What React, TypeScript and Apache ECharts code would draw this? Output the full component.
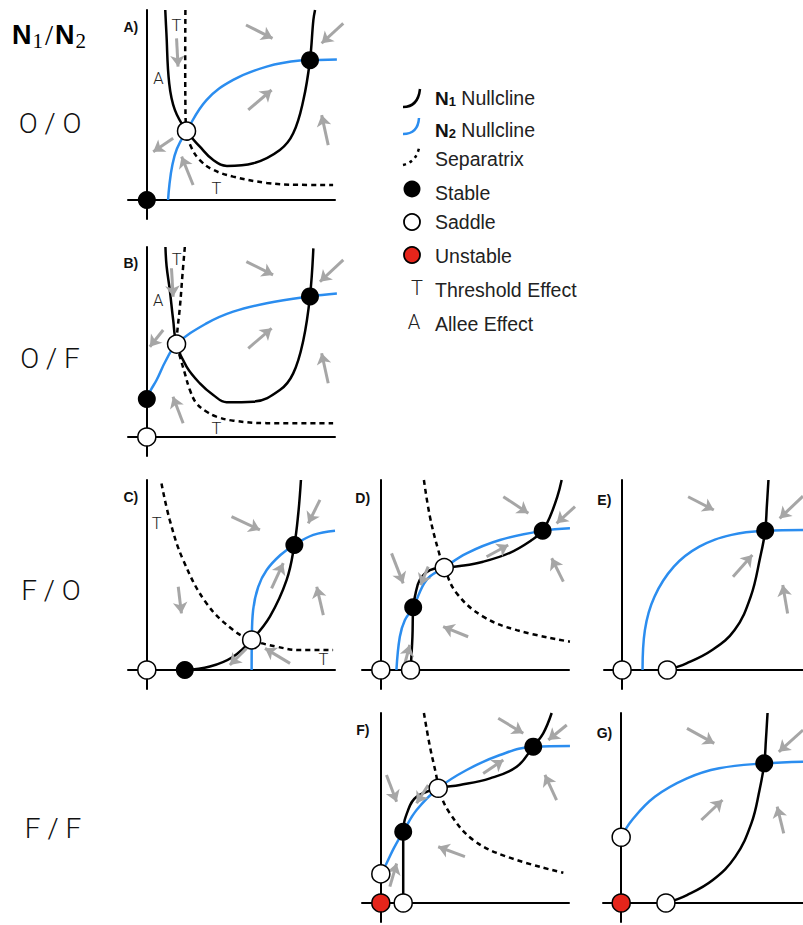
import React, { useEffect, useRef } from "react";
import * as echarts from "echarts";

type P = [number, number];
type Arrow = [P, P];
type Note = [string, number, number];

// ---------- Panel A (O / O) ----------
const aN1: P[] = [[9.8, 100], [10.4, 88], [11.9, 61.4], [14.9, 47.4], [21.1, 36.3], [28.2, 28.1], [35.3, 21], [42.6, 17.9], [56.6, 19.3], [70.7, 26.3], [77.8, 35.1], [83.2, 52.6], [86.7, 73.6], [88.5, 94.7], [89.4, 100]];
const aN2: P[] = [[11.3, 0], [12, 8], [13.5, 18], [16, 27], [21.1, 36.3], [31.7, 52.6], [45.9, 63.2], [63.7, 70.2], [81.4, 73.4], [86.7, 73.6], [101, 74]];
const aSep: P[] = [[20.5, 100], [20.4, 75], [20.5, 50], [21.1, 36.3], [23.5, 28], [28.2, 21], [35, 16], [45.9, 12.3], [63.7, 9], [80, 8], [99, 7.9]];
const aStable: P[] = [[0, 0], [86.7, 73.6]];
const aSaddle: P[] = [[21.1, 36.3]];
const aUnstable: P[] = [];
const aArrows: Arrow[] = [[[52.7, 92.1], [66.8, 85.1]], [[104.4, 93], [92.9, 82.5]], [[15.8, 85.1], [16.6, 70.2]], [[53.9, 47.4], [66.3, 57.9]], [[96.4, 28.9], [92.9, 44.7]], [[14, 32.5], [3.4, 25.4]], [[24.6, 7.9], [18.5, 22.8]]];
const aTag: Note[] = [["A)", -8.5, 91.2]];
const aNotes: Note[] = [["T", 15.7, 91.9], ["A", 6.1, 63.7], ["T", 37, 6.2]];

// ---------- Panel B (O / F) ----------
const bN1: P[] = [[9.9, 100], [10.5, 90], [12.2, 77.4], [14, 61.6], [15.8, 48.9], [21.1, 37], [28.2, 28.2], [35.3, 22.1], [42.4, 18.3], [56.6, 18.6], [70.7, 24.7], [77.8, 33.5], [83.2, 51.1], [86.7, 74], [88.5, 99.3]];
const bN2: P[] = [[0, 20], [2, 24.5], [5.2, 30], [10, 40], [15.8, 48.9], [31.7, 59.8], [45.9, 66], [63.7, 70.4], [86.7, 74], [101, 75.5]];
const bSep: P[] = [[20.2, 100], [19, 86.1], [17.6, 68.6], [16.1, 54.6], [15.8, 48.9], [17.6, 42.3], [20.2, 33.5], [22.9, 24.7], [26.4, 17.7], [31.8, 13.3], [37, 10.7], [45.9, 8.6], [63.7, 7.3], [99, 7.2]];
const bStable: P[] = [[0, 20], [86.7, 74]];
const bSaddle: P[] = [[0, 0], [15.8, 48.9]];
const bUnstable: P[] = [];
const bArrows: Arrow[] = [[[52.9, 92.3], [67.1, 85.3]], [[104.4, 93.2], [92, 81.7]], [[13.1, 88.8], [14, 73.8]], [[53.9, 46.7], [66.3, 57.2]], [[96.4, 28.3], [92.9, 44.1]], [[8.7, 56.3], [1.6, 47.5]], [[19.3, 7.2], [13.9, 21.2]]];
const bTag: Note[] = [["B)", -8.5, 91.4]];
const bNotes: Note[] = [["T", 15.8, 93.2], ["A", 6, 72.1], ["T", 37, 4.6]];

// ---------- Panel C (F / O) ----------
const cN1: P[] = [[20.2, 0], [33.5, 1.8], [45.9, 7], [55.7, 15.8], [65.4, 28.1], [74.3, 47.4], [78.4, 65.8], [80.5, 82.5], [81.9, 100]];
const cN2: P[] = [[55.7, 0], [55.8, 15.8], [56.5, 31.6], [59.2, 43.8], [63.7, 52.6], [71, 60.5], [78.4, 65.8], [88.5, 71.1], [100, 73.3]];
const cSep: P[] = [[7.8, 98.2], [12.2, 78.9], [19.3, 57.9], [31.7, 35.1], [45.9, 21], [55.7, 15.8], [68.9, 12.3], [81.4, 10.5], [99, 10.5]];
const cStable: P[] = [[20.2, 0], [78.4, 65.8]];
const cSaddle: P[] = [[0, 0], [55.7, 15.8]];
const cUnstable: P[] = [];
const cArrows: Arrow[] = [[[45, 80.7], [60.1, 73.7]], [[92, 89.5], [85.8, 77.2]], [[16.7, 43.8], [18.4, 29.8]], [[66.3, 43], [72.5, 56.2]], [[93.8, 28.9], [90.3, 43.8]], [[76.1, 3.5], [62.8, 11.4]], [[53, 11.4], [44.1, 2.6]]];
const cTag: Note[] = [["C)", -8.5, 91.2]];
const cNotes: Note[] = [["T", 5.2, 77.2], ["T", 93.8, 5.3]];

// ---------- Panel D (F / O) ----------
const dN1: P[] = [[15.8, 0], [16.8, 17.5], [17.2, 33], [18.1, 38.6], [20.7, 47.4], [26.1, 52.6], [33.7, 53.9], [42, 54.7], [54.4, 57], [68.6, 61.7], [80.2, 68.4], [86, 73.3], [89.9, 80.7], [93.8, 91.2], [96.1, 100]];
const dN2: P[] = [[8.3, 0], [10.1, 17.5], [12.8, 26.3], [17.2, 33], [24.3, 47.4], [33.7, 53.9], [45.6, 61.4], [63.3, 68.4], [86, 73.3], [100.5, 74.6]];
const dSep: P[] = [[22.9, 100], [26.1, 80.7], [30.5, 63.2], [33.7, 53.9], [40.3, 40.4], [54.4, 28.1], [72.2, 21], [100.5, 14.9]];
const dStable: P[] = [[17.2, 33], [86, 73.3]];
const dSaddle: P[] = [[0, 0], [15.8, 0], [33.7, 53.9]];
const dUnstable: P[] = [];
const dArrows: Arrow[] = [[[65.1, 91.2], [78.4, 82.5]], [[103.2, 86], [93.4, 77.2]], [[5.7, 61.4], [11.9, 45.6]], [[56.2, 59.6], [67.7, 65.8]], [[25.2, 54.4], [21.1, 44.7]], [[97, 46.5], [90.8, 58.8]], [[46.4, 17.5], [33.1, 22.8]], [[12.8, 3.5], [15.4, 13.2]]];
const dTag: Note[] = [["D)", -9.6, 90.4]];
const dNotes: Note[] = [];

// ---------- Panel E (F / O) ----------
const eN1: P[] = [[25, 0], [35.6, 3.5], [49.8, 10.5], [62.2, 21], [71.1, 38.6], [76.4, 59.6], [79.1, 73.3], [80, 86], [80.9, 100]];
const eN2: P[] = [[11.3, 0], [12.6, 21], [17.9, 38.6], [28.6, 54.4], [42.7, 64.9], [60.5, 71.1], [79.1, 73.3], [100, 73.7]];
const eSep: P[] = [];
const eStable: P[] = [[79.1, 73.3]];
const eSaddle: P[] = [[0, 0], [25, 0]];
const eUnstable: P[] = [];
const eArrows: Arrow[] = [[[36.5, 91.2], [50.7, 84.2]], [[100, 91.5], [87.1, 79.8]], [[61.3, 49.1], [72, 60.5]], [[91.5, 29.8], [88.8, 44.7]]];
const eTag: Note[] = [["E)", -9.8, 89.5]];
const eNotes: Note[] = [];

// ---------- Panel F (F / F) ----------
const fN1: P[] = [[11.9, 0], [11.9, 19.1], [11.9, 37.5], [14.5, 48.9], [19, 55.9], [30.5, 60.4], [42, 62.1], [58, 65.6], [72.2, 71.7], [81, 82.3], [86.3, 89.3], [90.8, 100]];
const fN2: P[] = [[0, 15.3], [3, 20.8], [7, 29], [11.9, 37.5], [19, 48.9], [30.5, 60.4], [45.6, 70], [63.3, 77.9], [81, 82.3], [100.5, 82.6]];
const fSep: P[] = [[22.9, 100], [26.1, 82.3], [29.6, 66.5], [30.5, 60.4], [36.7, 47.2], [49.1, 33.2], [66.9, 24.4], [97, 15.9]];
const fStable: P[] = [[11.9, 37.5], [81, 82.3]];
const fSaddle: P[] = [[0, 15.3], [11.9, 0], [30.5, 60.4]];
const fUnstable: P[] = [[0, 0]];
const fArrows: Arrow[] = [[[62.4, 97.2], [75.7, 89.3]], [[98.8, 93.7], [89, 85.8]], [[3, 67.4], [8.4, 53.3]], [[54.4, 68.2], [65.1, 75.3]], [[25.2, 62.1], [19, 52.5]], [[93.4, 54.2], [87.2, 67.4]], [[44.7, 24.4], [30.5, 29.6]], [[4.8, 8.6], [8.4, 20.8]]];
const fTag: Note[] = [["F)", -9.6, 91]];
const fNotes: Note[] = [];

// ---------- Panel G (F / F) ----------
const gN1: P[] = [[24.6, 0], [36.2, 4.2], [50.4, 12.1], [62.8, 24.4], [71.6, 41.9], [76.1, 59.5], [78.7, 73.5], [79.6, 85.8], [80.5, 100]];
const gN2: P[] = [[0, 34.6], [6, 43.7], [18.5, 55.9], [36.2, 65.6], [53.9, 70.9], [78.7, 73.5], [100, 74.4]];
const gSep: P[] = [];
const gStable: P[] = [[78.7, 73.5]];
const gSaddle: P[] = [[0, 34.6], [24.6, 0]];
const gUnstable: P[] = [[0, 0]];
const gArrows: Arrow[] = [[[36.2, 91.9], [51.2, 84]], [[100, 91], [86.7, 79.6]], [[44.1, 43.7], [55.7, 54.2]], [[89.4, 36.7], [85.8, 50.7]]];
const gTag: Note[] = [["G)", -9.2, 89.3]];
const gNotes: Note[] = [];

// Row labels and legend entries
const rowLabels = ["O / O", "O / F", "F / O", "F / F"];
const legendLabels = ["Nullcline", "Nullcline", "Separatrix", "Stable", "Saddle", "Unstable", "Threshold Effect", "Allee Effect"];

const panels = [
  { n1: aN1, n2: aN2, sep: aSep, stable: aStable, saddle: aSaddle, unstable: aUnstable, arrows: aArrows, tag: aTag, notes: aNotes },
  { n1: bN1, n2: bN2, sep: bSep, stable: bStable, saddle: bSaddle, unstable: bUnstable, arrows: bArrows, tag: bTag, notes: bNotes },
  { n1: cN1, n2: cN2, sep: cSep, stable: cStable, saddle: cSaddle, unstable: cUnstable, arrows: cArrows, tag: cTag, notes: cNotes },
  { n1: dN1, n2: dN2, sep: dSep, stable: dStable, saddle: dSaddle, unstable: dUnstable, arrows: dArrows, tag: dTag, notes: dNotes },
  { n1: eN1, n2: eN2, sep: eSep, stable: eStable, saddle: eSaddle, unstable: eUnstable, arrows: eArrows, tag: eTag, notes: eNotes },
  { n1: fN1, n2: fN2, sep: fSep, stable: fStable, saddle: fSaddle, unstable: fUnstable, arrows: fArrows, tag: fTag, notes: fNotes },
  { n1: gN1, n2: gN2, sep: gSep, stable: gStable, saddle: gSaddle, unstable: gUnstable, arrows: gArrows, tag: gTag, notes: gNotes },
];

// Layout (pixel origin of each panel's axes)
const origins: P[] = [[147, 200], [147, 437], [147, 670], [381, 670], [623, 670], [381, 903], [622, 903]];
const rowLabelPos: P[] = [[50, 123], [50, 358], [51, 590], [53, 828]];

const FONT = "'Liberation Sans', Arial, Helvetica, sans-serif";
const SERIF = "'Liberation Serif', 'DejaVu Serif', serif";
const LIGHT = "Roboto, 'Liberation Sans', sans-serif";
const BLUE = "#2b8def";
const GREY = "#a6a6a6";
const RED = "#e5251b";

function baseGraphic(): any[] {
  const graphic: any[] = [];
  graphic.push({
    type: "text", x: 12, y: 35,
    style: {
      text: "{n|N}{s|1}{sl|/}{n|N}{s|2}", textVerticalAlign: "middle", fill: "#000",
      rich: {
        n: { fontFamily: FONT, fontWeight: "bold", fontSize: 27, fill: "#000" },
        s: { fontFamily: SERIF, fontSize: 21, fill: "#000", padding: [12, 1, 0, 1] },
        sl: { fontFamily: SERIF, fontSize: 29, fill: "#000", padding: [0, 2, 0, 1] },
      },
    },
  });
  rowLabels.forEach((t, i) => {
    graphic.push({ type: "text", x: rowLabelPos[i][0], y: rowLabelPos[i][1],
      style: { text: t, fontFamily: LIGHT, fontWeight: 300, fontSize: 28, fill: "#111", textAlign: "center", textVerticalAlign: "middle" } });
  });
  graphic.push({ type: "bezierCurve", shape: { x1: 403, y1: 107, cpx1: 418, cpy1: 107, x2: 420, y2: 89 }, style: { stroke: "#000", lineWidth: 2.5, fill: "none" } });
  graphic.push({ type: "bezierCurve", shape: { x1: 403, y1: 134, cpx1: 418, cpy1: 134, x2: 419, y2: 118 }, style: { stroke: BLUE, lineWidth: 2.5, fill: "none" } });
  graphic.push({ type: "bezierCurve", shape: { x1: 403, y1: 165, cpx1: 416, cpy1: 162, x2: 419, y2: 148 }, style: { stroke: "#000", lineWidth: 2.5, fill: "none", lineDash: [3, 4] } });
  graphic.push({ type: "circle", shape: { cx: 412, cy: 189, r: 8.5 }, style: { fill: "#000" } });
  graphic.push({ type: "circle", shape: { cx: 412, cy: 222, r: 8 }, style: { fill: "#fff", stroke: "#000", lineWidth: 1.8 } });
  graphic.push({ type: "circle", shape: { cx: 412, cy: 255, r: 8 }, style: { fill: RED, stroke: "#000", lineWidth: 1.8 } });
  graphic.push({ type: "text", x: 417, y: 288, style: { text: "T", fontFamily: LIGHT, fontWeight: 300, fontSize: 20, fill: "#222", textAlign: "center", textVerticalAlign: "middle" } });
  graphic.push({ type: "text", x: 414, y: 322, style: { text: "A", fontFamily: LIGHT, fontWeight: 300, fontSize: 20, fill: "#222", textAlign: "center", textVerticalAlign: "middle" } });
  const legendY = [98, 130, 159, 193, 222, 256, 290, 324];
  legendLabels.forEach((t, i) => {
    const sub = i === 0 ? "1" : i === 1 ? "2" : "";
    const text = sub ? `{b|N}{bs|${sub}} ${t}` : t;
    graphic.push({ type: "text", x: 435, y: legendY[i],
      style: {
        text, fontFamily: FONT, fontSize: 19.5, fill: "#222", textVerticalAlign: "middle",
        rich: {
          b: { fontFamily: FONT, fontWeight: "bold", fontSize: 19, fill: "#111" },
          bs: { fontFamily: FONT, fontWeight: "bold", fontSize: 13, fill: "#111", padding: [7, 0, 0, 0] },
        },
      } });
  });
  return graphic;
}

function buildOption() {
  const grid: any[] = [];
  const xAxis: any[] = [];
  const yAxis: any[] = [];
  const series: any[] = [];
  const axisBase = {
    type: "value",
    min: -10,
    max: 100,
    axisLine: { show: true, onZero: true, lineStyle: { color: "#000", width: 2 } },
    axisTick: { show: false },
    axisLabel: { show: false },
    splitLine: { show: false },
  };
  panels.forEach((p, i) => {
    const [ox, oy] = origins[i];
    grid.push({ left: ox - 19, top: oy - 190, width: 207, height: 209, containLabel: false });
    xAxis.push({ ...axisBase, gridIndex: i });
    yAxis.push({ ...axisBase, gridIndex: i });
    const ax = { xAxisIndex: i, yAxisIndex: i };
    if (p.sep.length) {
      series.push({ ...ax, type: "line", data: p.sep, smooth: 0.4, symbol: "none", clip: false, silent: true, z: 2,
        lineStyle: { color: "#000", width: 2.5, type: [5, 4] } });
    }
    series.push({ ...ax, type: "line", data: p.n2, smooth: 0.4, symbol: "none", clip: false, silent: true, z: 3,
      lineStyle: { color: BLUE, width: 2.5 } });
    series.push({ ...ax, type: "line", data: p.n1, smooth: 0.4, symbol: "none", clip: false, silent: true, z: 4,
      lineStyle: { color: "#000", width: 2.5 } });
    series.push({ ...ax, type: "lines", coordinateSystem: "cartesian2d", clip: false, silent: true, z: 5,
      data: p.arrows.map((a) => ({ coords: a })), symbol: ["none", "arrow"], symbolSize: 11,
      lineStyle: { color: GREY, width: 3, opacity: 1 } });
    series.push({ ...ax, type: "scatter", data: p.stable, symbol: "circle", symbolSize: 18, clip: false, silent: true, z: 8,
      itemStyle: { color: "#000", opacity: 1 } });
    series.push({ ...ax, type: "scatter", data: p.saddle, symbol: "circle", symbolSize: 18, clip: false, silent: true, z: 8,
      itemStyle: { color: "#fff", borderColor: "#000", borderWidth: 1.5, opacity: 1 } });
    series.push({ ...ax, type: "scatter", data: p.unstable, symbol: "circle", symbolSize: 18, clip: false, silent: true, z: 8,
      itemStyle: { color: RED, borderColor: "#000", borderWidth: 1.5, opacity: 1 } });
  });

  return {
    animation: false,
    backgroundColor: "#fff",
    textStyle: { fontFamily: FONT },
    grid, xAxis, yAxis, series, graphic: baseGraphic(),
  };
}

// Panel annotations placed through each panel's own axes (convertToPixel)
function annotationGraphic(chart: echarts.ECharts): any[] {
  const out: any[] = [];
  panels.forEach((p, i) => {
    p.tag.forEach((n) => {
      const pt = chart.convertToPixel({ gridIndex: i } as any, [n[1], n[2]]) as number[];
      out.push({ type: "text", x: pt[0], y: pt[1], z: 20,
        style: { text: n[0], fontFamily: FONT, fontWeight: "bold", fontSize: 14, fill: "#111", textAlign: "center", textVerticalAlign: "middle" } });
    });
    p.notes.forEach((n) => {
      const pt = chart.convertToPixel({ gridIndex: i } as any, [n[1], n[2]]) as number[];
      out.push({ type: "text", x: pt[0], y: pt[1], z: 20,
        style: { text: n[0], fontFamily: LIGHT, fontWeight: 300, fontSize: 16.5, fill: "#222", textAlign: "center", textVerticalAlign: "middle" } });
    });
  });
  return out;
}

export default function App() {
  const ref = useRef<HTMLDivElement>(null);
  useEffect(() => {
    if (!ref.current) return;
    const chart = echarts.init(ref.current, undefined, { renderer: "svg" });
    chart.setOption(buildOption() as any);
    chart.setOption({ graphic: [...baseGraphic(), ...annotationGraphic(chart)] } as any);
    return () => chart.dispose();
  }, []);
  return <div ref={ref} style={{ position: "absolute", left: 0, top: 0, width: 803, height: 925 }} />;
}
